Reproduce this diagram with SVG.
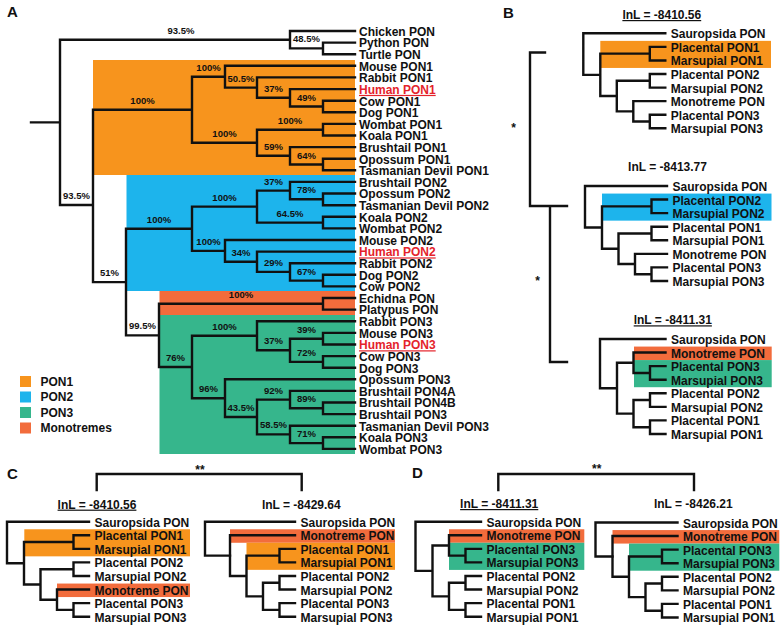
<svg xmlns="http://www.w3.org/2000/svg" width="783" height="629" viewBox="0 0 783 629">
<style>
text{font-family:"Liberation Sans",Arial,sans-serif;font-weight:bold;fill:#111}
.lf{font-size:12px}
.pc{font-size:9.5px;text-anchor:middle}
.hu{fill:#E4232B;text-decoration:underline}
.pl{font-size:15px}
.ln{font-size:12px;text-anchor:middle}
.ul{text-decoration:underline}
.st{font-size:12px;text-anchor:middle}
.t{fill:none;stroke:#111;stroke-width:2.4;stroke-linecap:square}
.o{fill:#F7941D}.b{fill:#1DB4EC}.g{fill:#36B68C}.m{fill:#F26C3C}
</style>
<defs>
<path id="T1" d="M0 0V41.56M0 0H82M0 41.56H17M17 20.36V62.76M17 20.36H66.5M66.5 13.57V27.14M66.5 13.57H82M66.5 27.14H82M17 62.76H33.5M33.5 47.5V78.03M33.5 47.5H66.5M66.5 40.71V54.28M66.5 40.71H82M66.5 54.28H82M33.5 78.03H50M50 67.85V88.2M50 67.85H82M50 88.2H66.5M66.5 81.42V94.99M66.5 81.42H82M66.5 94.99H82"/>
<path id="T2" d="M0 0V49.2M0 0H65.5M0 49.2H17M17 23.75V74.64M17 23.75H33.5M33.5 13.57V33.93M33.5 13.57H65.5M33.5 33.93H50M50 27.14V40.71M50 27.14H65.5M50 40.71H65.5M17 74.64H33.5M33.5 61.07V88.2M33.5 61.07H50M50 54.28V67.85M50 54.28H65.5M50 67.85H65.5M33.5 88.2H50M50 81.42V94.99M50 81.42H65.5M50 94.99H65.5"/>
<path id="T3" d="M17 13.57V54.28M17 13.57H82M17 54.28H33.5M33.5 33.93V74.64M33.5 33.93H66.5M66.5 27.14V40.71M66.5 27.14H82M66.5 40.71H82M33.5 74.64H50M50 61.07V88.2M50 61.07H66.5M66.5 54.28V67.85M66.5 54.28H82M66.5 67.85H82M50 88.2H66.5M66.5 81.42V94.99M66.5 81.42H82M66.5 94.99H82"/>
</defs>

<!-- Panel A -->
<g id="panelA">
<text class="pl" x="7" y="17">A</text>
<g id="cladeBackgrounds">
<rect class="o" x="93" y="60" width="262" height="115"/>
<rect class="b" x="126.5" y="175" width="228.5" height="116"/>
<rect class="m" x="159.5" y="291" width="195.5" height="24"/>
<rect class="g" x="159.5" y="315" width="195.5" height="139"/>
</g>
<g id="connectorsA">
<path class="t" d="M31 122.4H60M60 39.7V205M60 39.7H290M290 31V48.4M290 31H355M290 48.4H323M323 42.6V54.2M323 42.6H355M323 54.2H355
M60 205H93M93 109.7V282.1
M93 109.7H192M192 76.7V142.8M192 76.7H225M225 65.8V87.6M225 65.8H355M225 87.6H257M257 77.4V97.8M257 77.4H355M257 97.8H290M290 89.1V106.5M290 89.1H355M290 106.5H323M323 100.7V112.3M323 100.7H355M323 112.3H355
M192 142.8H257M257 129.7V155.8M257 129.7H323M323 123.9V135.5M323 123.9H355M323 135.5H355M257 155.8H290M290 147.1V164.5M290 147.1H355M290 164.5H323M323 158.7V170.3M323 158.7H355M323 170.3H355
M93 282.1H126M126 228.8V335.4
M126 228.8H192M192 206.6V250.9M192 206.6H257M257 190.6V222.6M257 190.6H290M290 181.9V199.3M290 181.9H355M290 199.3H323M323 193.5V205.2M323 193.5H355M323 205.2H355M257 222.6H323M323 216.8V228.4M323 216.8H355M323 228.4H355
M192 250.9H225M225 240V261.8M225 240H355M225 261.8H257M257 251.6V271.9M257 251.6H355M257 271.9H290M290 263.2V280.6M290 263.2H355M290 280.6H323M323 274.8V286.4M323 274.8H355M323 286.4H355
M126 335.4H159M159 303.8V367M159 303.8H323M323 298V309.6M323 298H355M323 309.6H355
M159 367H192M192 335.8V398.2M192 335.8H257M257 321.3V350.3M257 321.3H355M257 350.3H290M290 338.7V361.9M290 338.7H323M323 332.9V344.5M323 332.9H355M323 344.5H355M290 361.9H323M323 356.1V367.7M323 356.1H355M323 367.7H355
M192 398.2H225M225 379.3V417M225 379.3H355M225 417H257M257 399.6V434.4M257 399.6H290M290 390.9V408.3M290 390.9H355M290 408.3H323M323 402.5V414.1M323 402.5H355M323 414.1H355M257 434.4H290M290 425.7V443.1M290 425.7H355M290 443.1H323M323 437.3V448.9M323 437.3H355M323 448.9H355"/>
</g>
<g id="supportA">
<text class="pc" x="181" y="33.7">93.5%</text>
<text class="pc" x="306.5" y="42.4">48.5%</text>
<text class="pc" x="142.5" y="103.7">100%</text>
<text class="pc" x="208.5" y="70.7">100%</text>
<text class="pc" x="241" y="81.6">50.5%</text>
<text class="pc" x="273.5" y="91.8">37%</text>
<text class="pc" x="306.5" y="100.5">49%</text>
<text class="pc" x="290" y="123.7">100%</text>
<text class="pc" x="224.5" y="136.8">100%</text>
<text class="pc" x="273.5" y="149.8">59%</text>
<text class="pc" x="306.5" y="158.5">64%</text>
<text class="pc" x="76.5" y="199">93.5%</text>
<text class="pc" x="109.5" y="276.1">51%</text>
<text class="pc" x="159" y="222.8">100%</text>
<text class="pc" x="224.5" y="200.6">100%</text>
<text class="pc" x="273.5" y="184.6">37%</text>
<text class="pc" x="306.5" y="193.3">78%</text>
<text class="pc" x="290" y="216.6">64.5%</text>
<text class="pc" x="208.5" y="244.9">100%</text>
<text class="pc" x="241" y="255.8">34%</text>
<text class="pc" x="273.5" y="265.9">29%</text>
<text class="pc" x="306.5" y="274.6">67%</text>
<text class="pc" x="142.5" y="329.4">99.5%</text>
<text class="pc" x="241" y="297.8">100%</text>
<text class="pc" x="175.5" y="361">76%</text>
<text class="pc" x="224.5" y="329.8">100%</text>
<text class="pc" x="273.5" y="344.3">37%</text>
<text class="pc" x="306.5" y="332.7">39%</text>
<text class="pc" x="306.5" y="355.9">72%</text>
<text class="pc" x="208.5" y="392.2">96%</text>
<text class="pc" x="241" y="411">43.5%</text>
<text class="pc" x="273.5" y="393.6">92%</text>
<text class="pc" x="306.5" y="402.3">89%</text>
<text class="pc" x="273.5" y="428.4">58.5%</text>
<text class="pc" x="306.5" y="437.1">71%</text>
</g>
<g id="leavesA" class="lf">
<text class="lf" x="359" y="35.8">Chicken PON</text>
<text class="lf" x="359" y="47.4">Python PON</text>
<text class="lf" x="359" y="59">Turtle PON</text>
<text class="lf" x="359" y="70.6">Mouse PON1</text>
<text class="lf" x="359" y="82.2">Rabbit PON1</text>
<text class="lf hu" x="359" y="93.9">Human PON1</text>
<text class="lf" x="359" y="105.5">Cow PON1</text>
<text class="lf" x="359" y="117.1">Dog PON1</text>
<text class="lf" x="359" y="128.7">Wombat PON1</text>
<text class="lf" x="359" y="140.3">Koala PON1</text>
<text class="lf" x="359" y="151.9">Brushtail PON1</text>
<text class="lf" x="359" y="163.5">Opossum PON1</text>
<text class="lf" x="359" y="175.1">Tasmanian Devil PON1</text>
<text class="lf" x="359" y="186.7">Brushtail PON2</text>
<text class="lf" x="359" y="198.3">Opossum PON2</text>
<text class="lf" x="359" y="210">Tasmanian Devil PON2</text>
<text class="lf" x="359" y="221.6">Koala PON2</text>
<text class="lf" x="359" y="233.2">Wombat PON2</text>
<text class="lf" x="359" y="244.8">Mouse PON2</text>
<text class="lf hu" x="359" y="256.4">Human PON2</text>
<text class="lf" x="359" y="268">Rabbit PON2</text>
<text class="lf" x="359" y="279.6">Dog PON2</text>
<text class="lf" x="359" y="291.2">Cow PON2</text>
<text class="lf" x="359" y="302.8">Echidna PON</text>
<text class="lf" x="359" y="314.4">Platypus PON</text>
<text class="lf" x="359" y="326.1">Rabbit PON3</text>
<text class="lf" x="359" y="337.7">Mouse PON3</text>
<text class="lf hu" x="359" y="349.3">Human PON3</text>
<text class="lf" x="359" y="360.9">Cow PON3</text>
<text class="lf" x="359" y="372.5">Dog PON3</text>
<text class="lf" x="359" y="384.1">Opossum PON3</text>
<text class="lf" x="359" y="395.7">Brushtail PON4A</text>
<text class="lf" x="359" y="407.3">Brushtail PON4B</text>
<text class="lf" x="359" y="418.9">Brushtail PON3</text>
<text class="lf" x="359" y="430.5">Tasmanian Devil PON3</text>
<text class="lf" x="359" y="442.1">Koala PON3</text>
<text class="lf" x="359" y="453.7">Wombat PON3</text>
</g>
<g id="legend">
<rect class="o" x="20" y="376" width="11" height="11"/>
<rect class="b" x="20" y="391.5" width="11" height="11"/>
<rect class="g" x="20" y="407" width="11" height="11"/>
<rect class="m" x="20" y="422.5" width="11" height="11"/>
<text class="lf" x="40.5" y="385.8">PON1</text>
<text class="lf" x="40.5" y="401.3">PON2</text>
<text class="lf" x="40.5" y="416.8">PON3</text>
<text class="lf" x="40.5" y="432.3">Monotremes</text>
</g>
</g>

<!-- Panel B -->
<g id="panelB">
<text class="pl" x="503" y="18">B</text>
<g id="connectorsB">
<path class="t" d="M545 52.5H530V206H567M550 206V362H567"/>
</g>
<text class="st" x="513.5" y="131.5">*</text>
<text class="st" x="537.5" y="285">*</text>

<g id="treeB1" transform="translate(583.3,33.3)">
<text class="ln ul" x="78.5" y="-14.3">lnL = -8410.56</text>
<rect class="o" x="17" y="7.57" width="170.7" height="27.07"/>
<use href="#T1" class="t"/>
<text class="lf" x="87.5" y="5">Sauropsida PON</text>
<text class="lf" x="87.5" y="18.57">Placental PON1</text>
<text class="lf" x="87.5" y="32.14">Marsupial PON1</text>
<text class="lf" x="87.5" y="45.71">Placental PON2</text>
<text class="lf" x="87.5" y="59.28">Marsupial PON2</text>
<text class="lf" x="87.5" y="72.85">Monotreme PON</text>
<text class="lf" x="87.5" y="86.42">Placental PON3</text>
<text class="lf" x="87.5" y="99.99">Marsupial PON3</text>
</g>

<g id="treeB2" transform="translate(585,186)">
<text class="ln" x="82.5" y="-15">lnL = -8413.77</text>
<rect class="b" x="17" y="7.57" width="169.5" height="27.07"/>
<use href="#T1" class="t"/>
<text class="lf" x="87.5" y="5">Sauropsida PON</text>
<text class="lf" x="87.5" y="18.57">Placental PON2</text>
<text class="lf" x="87.5" y="32.14">Marsupial PON2</text>
<text class="lf" x="87.5" y="45.71">Placental PON1</text>
<text class="lf" x="87.5" y="59.28">Marsupial PON1</text>
<text class="lf" x="87.5" y="72.85">Monotreme PON</text>
<text class="lf" x="87.5" y="86.42">Placental PON3</text>
<text class="lf" x="87.5" y="99.99">Marsupial PON3</text>
</g>

<g id="treeB3" transform="translate(600,339)">
<text class="ln ul" x="72.8" y="-14.7">lnL = -8411.31</text>
<rect class="m" x="34" y="7.57" width="137.7" height="13.5"/>
<rect class="g" x="34" y="21.07" width="137.7" height="27.14"/>
<use href="#T2" class="t"/>
<text class="lf" x="71" y="5">Sauropsida PON</text>
<text class="lf" x="71" y="18.57">Monotreme PON</text>
<text class="lf" x="71" y="32.14">Placental PON3</text>
<text class="lf" x="71" y="45.71">Marsupial PON3</text>
<text class="lf" x="71" y="59.28">Placental PON2</text>
<text class="lf" x="71" y="72.85">Marsupial PON2</text>
<text class="lf" x="71" y="86.42">Placental PON1</text>
<text class="lf" x="71" y="99.99">Marsupial PON1</text>
</g>
</g>

<!-- Panel C -->
<g id="panelC">
<text class="pl" x="7" y="479">C</text>
<g id="connectorsC">
<path class="t" d="M96.7 490V474H301.7V490"/>
</g>
<text class="st" x="200" y="473.5">**</text>
<g id="treeC1" transform="translate(7,521.7)">
<text class="ln ul" x="90" y="-13.1">lnL = -8410.56</text>
<rect class="o" x="17.3" y="7.57" width="165.7" height="27.07"/>
<rect class="m" x="50" y="61.85" width="133" height="13.5"/>
<use href="#T1" class="t"/>
<text class="lf" x="87.5" y="5">Sauropsida PON</text>
<text class="lf" x="87.5" y="18.57">Placental PON1</text>
<text class="lf" x="87.5" y="32.14">Marsupial PON1</text>
<text class="lf" x="87.5" y="45.71">Placental PON2</text>
<text class="lf" x="87.5" y="59.28">Marsupial PON2</text>
<text class="lf" x="87.5" y="72.85">Monotreme PON</text>
<text class="lf" x="87.5" y="86.42">Placental PON3</text>
<text class="lf" x="87.5" y="99.99">Marsupial PON3</text>
</g>
<g id="treeC2" transform="translate(213,521.7)">
<text class="ln" x="88.3" y="-13.1">lnL = -8429.64</text>
<rect class="m" x="17" y="7.57" width="165" height="13.5"/>
<rect class="o" x="33.5" y="21.07" width="148.5" height="27.07"/>
<path class="t" d="M-8 0V33.93M-8 0H82M-8 33.93H17"/>
<use href="#T3" class="t"/>
<text class="lf" x="87.5" y="5">Sauropsida PON</text>
<text class="lf" x="87.5" y="18.57">Monotreme PON</text>
<text class="lf" x="87.5" y="32.14">Placental PON1</text>
<text class="lf" x="87.5" y="45.71">Marsupial PON1</text>
<text class="lf" x="87.5" y="59.28">Placental PON2</text>
<text class="lf" x="87.5" y="72.85">Marsupial PON2</text>
<text class="lf" x="87.5" y="86.42">Placental PON3</text>
<text class="lf" x="87.5" y="99.99">Marsupial PON3</text>
</g>
</g>

<!-- Panel D -->
<g id="panelD">
<text class="pl" x="412" y="478">D</text>
<g id="connectorsD">
<path class="t" d="M498.3 490V474H694V490"/>
</g>
<text class="st" x="596.7" y="473">**</text>
<g id="treeD1" transform="translate(415.5,521.7)">
<text class="ln ul" x="83.7" y="-13.7">lnL = -8411.31</text>
<rect class="m" x="33.5" y="7.57" width="135.3" height="13.5"/>
<rect class="g" x="33.5" y="21.07" width="135.3" height="27.14"/>
<use href="#T2" class="t"/>
<text class="lf" x="71" y="5">Sauropsida PON</text>
<text class="lf" x="71" y="18.57">Monotreme PON</text>
<text class="lf" x="71" y="32.14">Placental PON3</text>
<text class="lf" x="71" y="45.71">Marsupial PON3</text>
<text class="lf" x="71" y="59.28">Placental PON2</text>
<text class="lf" x="71" y="72.85">Marsupial PON2</text>
<text class="lf" x="71" y="86.42">Placental PON1</text>
<text class="lf" x="71" y="99.99">Marsupial PON1</text>
</g>
<g id="treeD2" transform="translate(595.5,522.5)">
<text class="ln" x="97.8" y="-14.5">lnL = -8426.21</text>
<rect class="m" x="17" y="7.57" width="166.8" height="13.5"/>
<rect class="g" x="33.5" y="21.07" width="150.3" height="27.14"/>
<path class="t" d="M0 0V33.93M0 0H82M0 33.93H17"/>
<use href="#T3" class="t"/>
<text class="lf" x="87.5" y="5">Sauropsida PON</text>
<text class="lf" x="87.5" y="18.57">Monotreme PON</text>
<text class="lf" x="87.5" y="32.14">Placental PON3</text>
<text class="lf" x="87.5" y="45.71">Marsupial PON3</text>
<text class="lf" x="87.5" y="59.28">Placental PON2</text>
<text class="lf" x="87.5" y="72.85">Marsupial PON2</text>
<text class="lf" x="87.5" y="86.42">Placental PON1</text>
<text class="lf" x="87.5" y="99.99">Marsupial PON1</text>
</g>
</g>
</svg>
